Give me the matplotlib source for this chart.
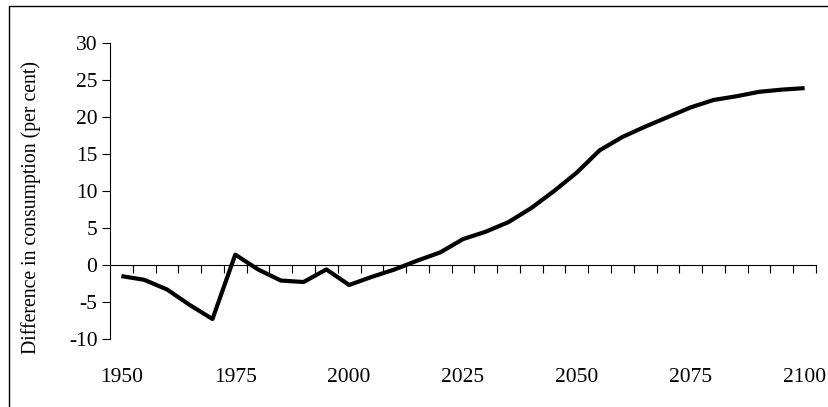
import matplotlib.pyplot as plt
from matplotlib.patches import Rectangle

years = list(range(1950, 2101, 5))
diff = [-1.5, -2.0, -3.3, -5.4, -7.3, 1.4, -0.6, -2.1, -2.3, -0.6,
        -2.7, -1.6, -0.6, 0.6, 1.7, 3.5, 4.5, 5.8, 7.7, 10.0,
        12.5, 15.5, 17.3, 18.7, 20.0, 21.3, 22.3, 22.8, 23.4, 23.7, 23.9]
ylabel = 'Difference in consumption (per cent)'

plt.rcParams['font.family'] = ['Liberation Serif', 'DejaVu Serif']
plt.rcParams['axes.unicode_minus'] = False

fig = plt.figure(figsize=(8.29, 4.07), dpi=100)
# outer chart frame (only left and top edges fall inside the picture)
fig.patches.append(Rectangle((9 / 829, -0.1), 1.2, 1 - 6 / 407 + 0.1,
                             transform=fig.transFigure, fill=False,
                             edgecolor='black', linewidth=1))

ax = fig.add_axes([110 / 829, 1 - 339 / 407, (816 - 110) / 829, (339 - 43) / 407])
x = list(range(len(years)))
ax.plot(x, diff, color='black', linewidth=3, solid_capstyle='butt')

ax.set_xlim(-0.5, len(years) - 0.5)
ax.set_ylim(-10, 30)
ax.set_yticks(range(-10, 31, 5))
ax.tick_params(axis='y', direction='out', length=6, width=0.8, labelsize=15.5, pad=3)

ax.spines['top'].set_visible(False)
ax.spines['right'].set_visible(False)
ax.spines['bottom'].set_position(('data', 0))
ax.spines['left'].set_linewidth(0.8)
ax.spines['bottom'].set_linewidth(0.8)

ax.set_xticks(x[::5])
ax.set_xticklabels([str(y) for y in years[::5]])
ax.set_xticks([i + 0.5 for i in x], minor=True)
ax.tick_params(axis='x', which='major', length=0, labelsize=15.5, pad=74)
ax.tick_params(axis='x', which='minor', direction='out', length=5.5, width=0.8)

ax.set_ylabel(ylabel, fontsize=14.2)
ax.yaxis.set_label_coords(41 / 829, 1 - 208 / 407, transform=fig.transFigure)

fig.savefig('out.png', dpi=100)
